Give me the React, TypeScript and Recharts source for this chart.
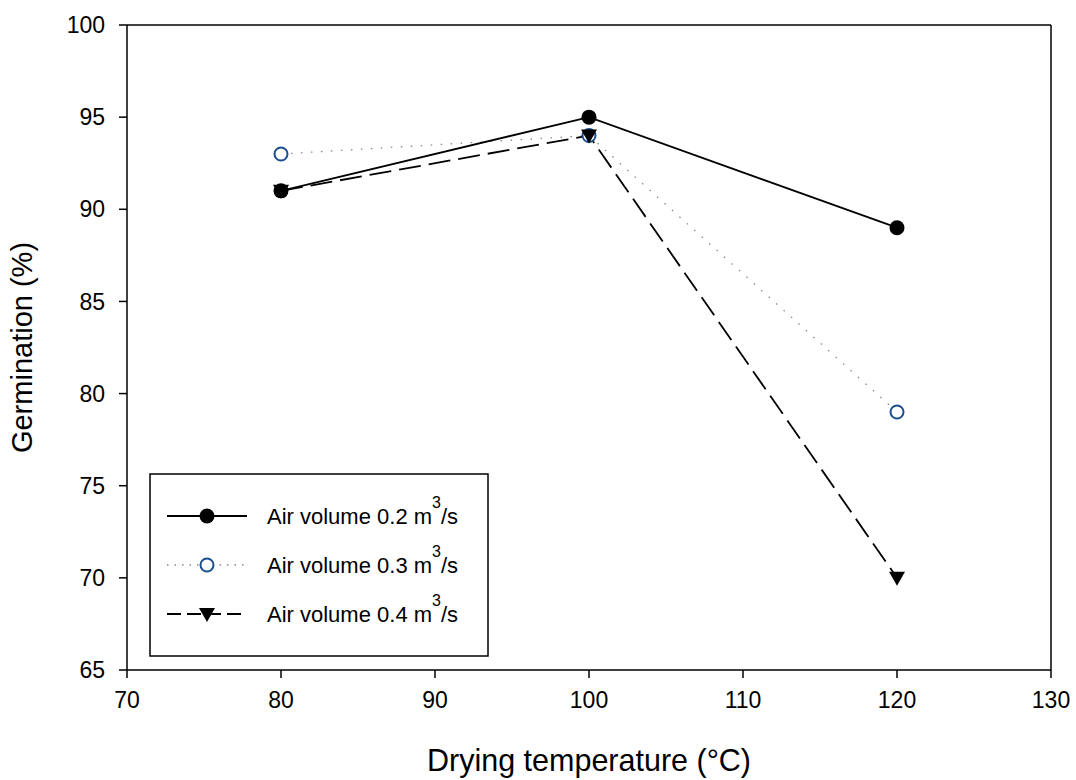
import React from "react";
import { LineChart, Line, XAxis, YAxis, ReferenceLine, Label } from "recharts";

const temperatures = [80, 100, 120];
const air02 = [91, 95, 89];
const air03 = [93, 94, 79];
const air04 = [91, 94, 70];
const xTicks = [70, 80, 90, 100, 110, 120, 130];
const yTicks = [65, 70, 75, 80, 85, 90, 95, 100];
const seriesNames = ["Air volume 0.2 m", "Air volume 0.3 m", "Air volume 0.4 m"];

const toRows = (vals: number[]) => temperatures.map((t, i) => ({ t, v: vals[i] }));

const FONT = "'Liberation Sans', Arial, sans-serif";
const BLUE = "#1a4f8f";
const DOTTED = "1.5 8.5";
const DASHED = "22 8";

const FilledCircle = (props: any) => {
  const { cx, cy } = props;
  if (cx == null || cy == null) return null;
  return <circle cx={cx} cy={cy} r={7.5} fill="#000" />;
};
const OpenCircle = (props: any) => {
  const { cx, cy } = props;
  if (cx == null || cy == null) return null;
  return <circle cx={cx} cy={cy} r={6.5} fill="#fff" stroke={BLUE} strokeWidth={2} />;
};
const DownTriangle = (props: any) => {
  const { cx, cy } = props;
  if (cx == null || cy == null) return null;
  return <path d={`M${cx - 8},${cy - 6} L${cx + 8},${cy - 6} L${cx},${cy + 8} Z`} fill="#000" />;
};

const LegendBox = () => {
  const rows = [
    { name: seriesNames[0], dash: undefined, stroke: "#000", width: 1.8, marker: "fc" },
    { name: seriesNames[1], dash: "1.5 6", stroke: "#888", width: 1.3, marker: "oc" },
    { name: seriesNames[2], dash: "14 6", stroke: "#000", width: 1.8, marker: "tri" },
  ];
  return (
    <svg width={341} height={185} style={{ display: "block" }}>
      <rect x={1} y={1} width={338} height={182} fill="#fff" stroke="#000" strokeWidth={1.5} />
      {rows.map((r, i) => {
        const y = 43 + i * 49;
        return (
          <g key={i}>
            <line x1={18} x2={98} y1={y} y2={y} stroke={r.stroke} strokeWidth={r.width} strokeDasharray={r.dash} />
            {r.marker === "fc" && <FilledCircle cx={58} cy={y} />}
            {r.marker === "oc" && <OpenCircle cx={58} cy={y} />}
            {r.marker === "tri" && <DownTriangle cx={58} cy={y} />}
            <text x={118} y={y + 8} fontFamily={FONT} fontSize={22} fill="#000">
              {r.name}
              <tspan dy={-16} fontSize={16}>3</tspan>
              <tspan dy={16}>/s</tspan>
            </text>
          </g>
        );
      })}
    </svg>
  );
};

export default function App() {
  return (
    <div style={{ position: "absolute", left: 0, top: 0, width: 1076, height: 780, background: "#fff" }}>
      <LineChart width={1076} height={780} margin={{ top: 25, right: 25, bottom: 0, left: 0 }}>
        <XAxis
          type="number"
          dataKey="t"
          domain={[70, 130]}
          ticks={xTicks}
          allowDataOverflow
          height={110}
          tickSize={8}
          tickMargin={14}
          stroke="#000"
          strokeWidth={1.5}
          tick={{ fill: "#000", fontSize: 23, fontFamily: FONT }}
          tickLine={{ stroke: "#000", strokeWidth: 1.5 }}
        >
          <Label value="Drying temperature (°C)" position="insideBottom" offset={9} style={{ fill: "#000", fontSize: 30.5, fontFamily: FONT }} />
        </XAxis>
        <YAxis
          type="number"
          domain={[65, 100]}
          ticks={yTicks}
          allowDataOverflow
          width={127}
          tickSize={8}
          tickMargin={14}
          stroke="#000"
          strokeWidth={1.5}
          tick={{ fill: "#000", fontSize: 23, fontFamily: FONT }}
          tickLine={{ stroke: "#000", strokeWidth: 1.5 }}
        >
          <Label value="Germination (%)" angle={-90} position="insideLeft" offset={22} style={{ fill: "#000", fontSize: 29, fontFamily: FONT, textAnchor: "middle" }} />
        </YAxis>
        <ReferenceLine y={100} stroke="#000" strokeWidth={1.5} />
        <ReferenceLine x={130} stroke="#000" strokeWidth={1.5} />
        <Line
          data={toRows(air03)}
          dataKey="v"
          name={seriesNames[1]}
          stroke="#888"
          strokeWidth={1.3}
          strokeDasharray={DOTTED}
          dot={<OpenCircle />}
          activeDot={false}
          isAnimationActive={false}
        />
        <Line
          data={toRows(air04)}
          dataKey="v"
          name={seriesNames[2]}
          stroke="#000"
          strokeWidth={1.8}
          strokeDasharray={DASHED}
          dot={<DownTriangle />}
          activeDot={false}
          isAnimationActive={false}
        />
        <Line
          data={toRows(air02)}
          dataKey="v"
          name={seriesNames[0]}
          stroke="#000"
          strokeWidth={1.8}
          dot={<FilledCircle />}
          activeDot={false}
          isAnimationActive={false}
        />
      </LineChart>
      <div style={{ position: "absolute", left: 149, top: 473 }}>
        <LegendBox />
      </div>
    </div>
  );
}
